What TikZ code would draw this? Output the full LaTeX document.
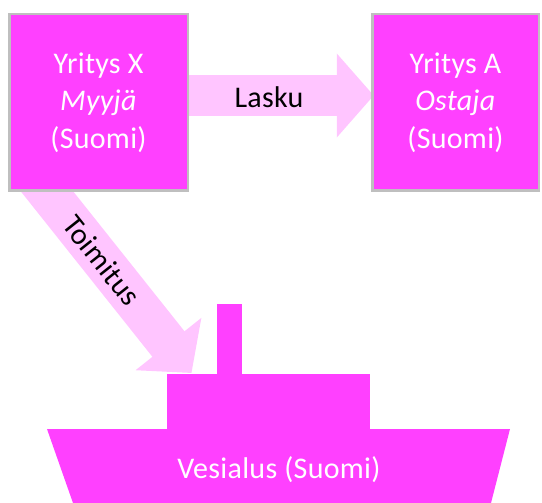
\documentclass[tikz,border=0pt]{standalone}
\usepackage{fontspec}
\setmainfont{Carlito}[LetterSpace=1]
\usetikzlibrary{arrows.meta,calc,backgrounds}
\definecolor{mag}{RGB}{255,64,255}
\definecolor{pinkarr}{RGB}{255,197,255}
\definecolor{bord}{RGB}{191,191,191}
\begin{document}
\begin{tikzpicture}[x=1pt,y=-1pt,
  txt/.style={font=\fontsize{30}{37.5}\selectfont, inner sep=0pt},
  company/.style={draw=bord, line width=2.5pt, fill=mag, text=white, align=center,
    font=\fontsize{30}{37.5}\selectfont, minimum height=176.5pt, inner sep=0pt, outer sep=0pt},
  bigarrow/.style={draw=pinkarr, line width=41pt, -{Triangle[width=82pt,length=37pt]}},
  shippart/.style={fill=mag, inner sep=0pt, outer sep=0pt}]
\useasboundingbox (0,0) rectangle (542,503);
% companies
\node[company, minimum width=178.5pt] (boxX) at (98.5,102.5) {Yritys X\\\textit{Myyjä}\\(Suomi)};
\node[company, minimum width=166.5pt] (boxA) at (455.5,102.5) {Yritys A\\\textit{Ostaja}\\(Suomi)};
% ship
\node[shippart, minimum width=25pt, minimum height=70pt] (mast) at (229.5,339) {};
\node[shippart, minimum width=203pt, minimum height=55pt] (house) at (268.5,401.5) {};
\fill[mag] (47,429) -- (510,429) -- (491,503) -- (73,503) -- cycle;
\node[txt, text=white] (hull) at (279,470) {Vesialus (Suomi)};
% arrows
\coordinate (tstart) at (28.8,168.5);
\coordinate (ttip) at (191.5,373);
\begin{scope}[on background layer]
\draw[bigarrow] (tstart) -- (ttip);
\draw[bigarrow] (boxX.east |- 0,95.5) -- ($(boxA.west |- 0,95.5)+(1.5,0)$);
\end{scope}
\node[txt, text=black] (lasku) at (269,97) {Lasku};
\node[txt, text=black, rotate=-51.5] (toim) at ($(tstart)!0.45!(ttip)$) {Toimitus};
\end{tikzpicture}
\end{document}
